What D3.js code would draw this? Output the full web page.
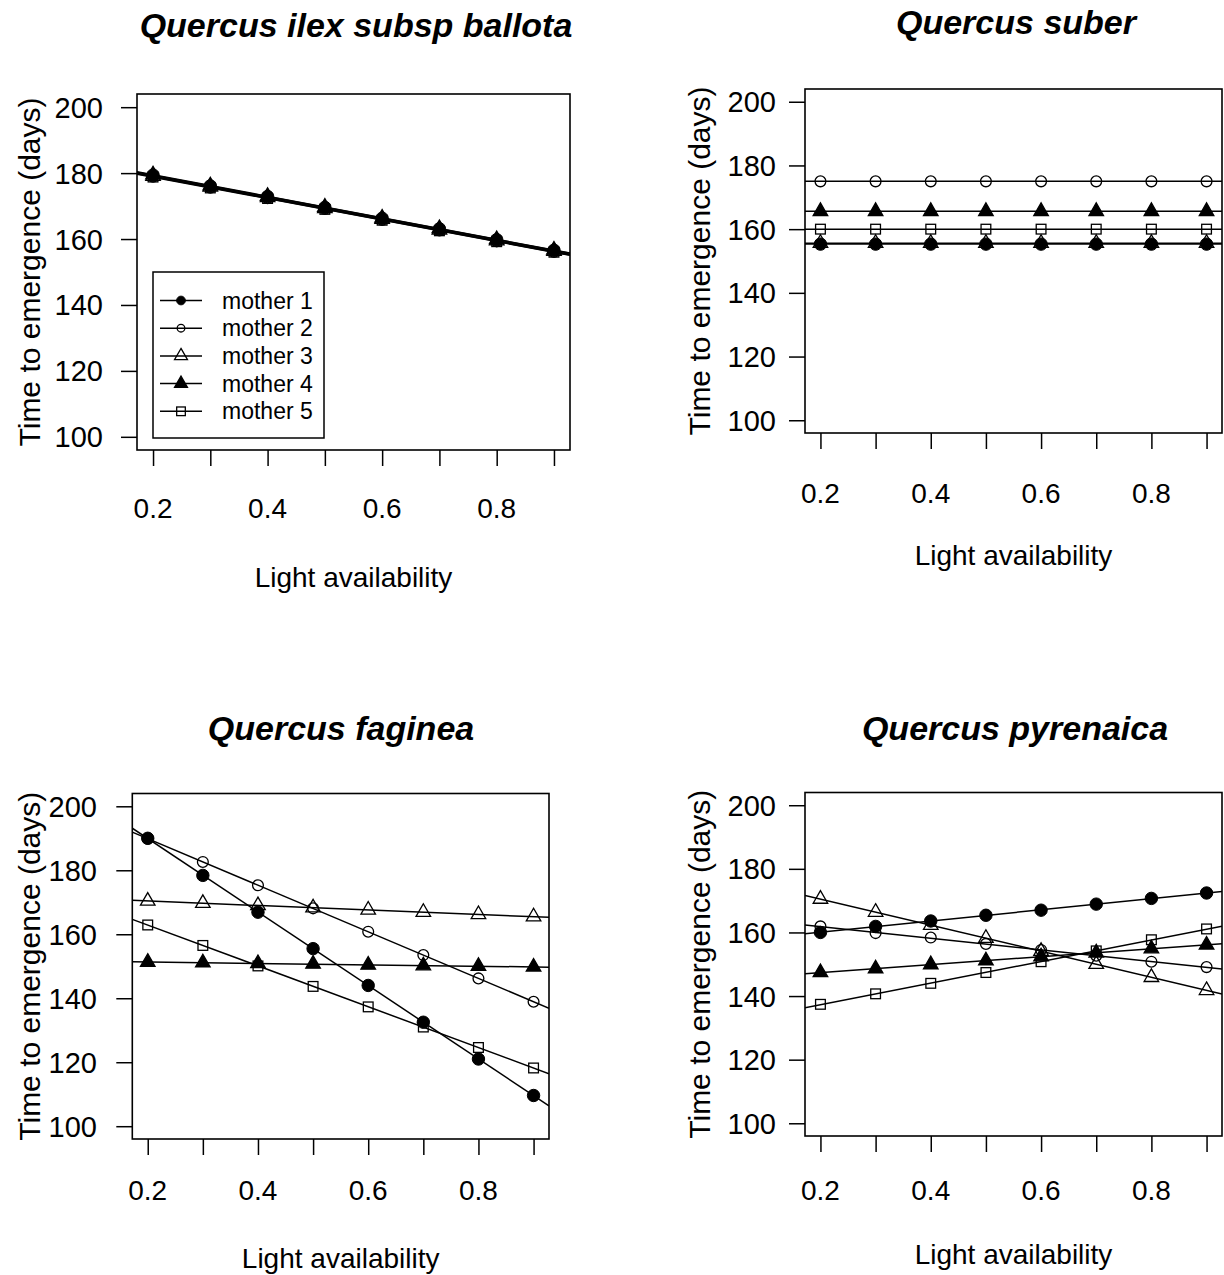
<!DOCTYPE html>
<html><head><meta charset="utf-8">
<script src="https://cdn.jsdelivr.net/npm/d3@7"></script>
<style>
body{margin:0;background:#fff}
svg{display:block}
text{font-family:"Liberation Sans",Arial,Helvetica,sans-serif;fill:#000}
</style>
</head><body>
<svg id="chart" width="1224" height="1275"></svg>
<script>
// ---------------- DATA ----------------
const lightLevels = [0.2, 0.3, 0.4, 0.5, 0.6, 0.7, 0.8, 0.9];
const xTickLabels = ["0.2", "", "0.4", "", "0.6", "", "0.8", ""];
const yTicks = [100, 120, 140, 160, 180, 200];
const mothers = ["mother 1", "mother 2", "mother 3", "mother 4", "mother 5"];
const motherSymbols = ["filledCircle", "circle", "triangle", "filledTriangle", "square"];
const speciesTitles = ["Quercus ilex subsp ballota", "Quercus suber", "Quercus faginea", "Quercus pyrenaica"];
const xAxisTitle = "Light availability";
const yAxisTitle = "Time to emergence (days)";

const ilexValues = [
  [179.4, 176.1, 172.9, 169.6, 166.3, 163.1, 159.8, 156.6],
  [178.9, 175.6, 172.4, 169.1, 165.8, 162.6, 159.3, 156.1],
  [179.1, 175.8, 172.6, 169.3, 166.0, 162.8, 159.5, 156.3],
  [179.5, 176.2, 173.0, 169.7, 166.4, 163.2, 159.9, 156.7],
  [178.8, 175.5, 172.3, 169.0, 165.7, 162.5, 159.2, 156.0]
];
const suberValues = [
  [155.3, 155.3, 155.3, 155.3, 155.3, 155.3, 155.3, 155.3],
  [175.0, 175.0, 175.0, 175.0, 175.0, 175.0, 175.0, 175.0],
  [155.6, 155.6, 155.6, 155.6, 155.6, 155.6, 155.6, 155.6],
  [165.6, 165.6, 165.6, 165.6, 165.6, 165.6, 165.6, 165.6],
  [160.0, 160.0, 160.0, 160.0, 160.0, 160.0, 160.0, 160.0]
];
const fagineaValues = [
  [190.0, 178.4, 166.9, 155.5, 144.0, 132.5, 121.0, 109.6],
  [189.9, 182.6, 175.3, 168.1, 160.8, 153.5, 146.2, 138.9],
  [170.4, 169.7, 169.0, 168.3, 167.6, 166.9, 166.2, 165.5],
  [151.3, 151.1, 150.9, 150.7, 150.4, 150.2, 150.0, 149.8],
  [162.9, 156.5, 150.1, 143.7, 137.3, 131.0, 124.6, 118.2]
];
const pyrenaicaValues = [
  [160.0, 161.9, 163.6, 165.4, 167.0, 168.9, 170.7, 172.4],
  [161.9, 159.8, 158.4, 156.4, 154.5, 152.7, 150.8, 149.1],
  [170.5, 166.4, 162.3, 158.2, 154.1, 150.0, 145.9, 141.8],
  [147.4, 148.6, 149.9, 151.1, 152.4, 153.6, 154.9, 156.1],
  [137.4, 140.7, 144.0, 147.4, 150.8, 154.2, 157.7, 161.1]
];

// ---------------- LAYOUT ----------------
const xDomain = [0.172, 0.928];
const yDomain = [96, 204];
const panels = [
  {title: speciesTitles[0], values: ilexValues, box: [137, 570, 94, 450],
   titleX: 356, titleY: 37, xLabY: 518, xTitleY: 587, yLabX: 103, yTitleX: 29, legend: true},
  {title: speciesTitles[1], values: suberValues, box: [805, 1222, 89, 433],
   titleX: 1016, titleY: 34, xLabY: 503, xTitleY: 565, yLabX: 776, yTitleX: 699, legend: false},
  {title: speciesTitles[2], values: fagineaValues, box: [132.3, 549, 793.5, 1139],
   titleX: 341, titleY: 740, xLabY: 1200, xTitleY: 1268, yLabX: 97, yTitleX: 29, legend: false},
  {title: speciesTitles[3], values: pyrenaicaValues, box: [805, 1222, 792.5, 1136],
   titleX: 1015, titleY: 740, xLabY: 1200, xTitleY: 1264, yLabX: 776, yTitleX: 699, legend: false}
];

const svg = d3.select("#chart");
const R = 5.4;

function drawSymbol(g, type, cx, cy, size) {
  const s = size;
  if (type === "filledCircle") {
    g.append("circle").attr("cx", cx).attr("cy", cy).attr("r", s * 1.15)
      .attr("fill", "#000").attr("stroke", "#000").attr("stroke-width", 1);
  } else if (type === "circle") {
    g.append("circle").attr("cx", cx).attr("cy", cy).attr("r", s)
      .attr("fill", "none").attr("stroke", "#000").attr("stroke-width", 1.3);
  } else if (type === "triangle" || type === "filledTriangle") {
    const r = 1.555 * s, xc = 1.347 * s, yc = 0.778 * s;
    const p = `M${cx},${cy - r}L${cx + xc},${cy + yc}L${cx - xc},${cy + yc}Z`;
    g.append("path").attr("d", p)
      .attr("fill", type === "filledTriangle" ? "#000" : "none")
      .attr("stroke", "#000").attr("stroke-width", 1.3).attr("stroke-linejoin", "miter");
  } else if (type === "square") {
    const h = 0.9 * s;
    g.append("rect").attr("x", cx - h).attr("y", cy - h).attr("width", 2 * h).attr("height", 2 * h)
      .attr("fill", "none").attr("stroke", "#000").attr("stroke-width", 1.3);
  }
}

function linFit(xs, ys) {
  const mx = d3.mean(xs), my = d3.mean(ys);
  let sxy = 0, sxx = 0;
  xs.forEach((x, i) => { sxy += (x - mx) * (ys[i] - my); sxx += (x - mx) * (x - mx); });
  const b = sxy / sxx;
  return x => my + b * (x - mx);
}

panels.forEach((p, pi) => {
  const [x0, x1, y0, y1] = p.box;
  const x = d3.scaleLinear().domain(xDomain).range([x0, x1]);
  const y = d3.scaleLinear().domain(yDomain).range([y1, y0]);
  const g = svg.append("g");

  const clipId = "clip" + pi;
  svg.append("defs").append("clipPath").attr("id", clipId)
    .append("rect").attr("x", x0).attr("y", y0).attr("width", x1 - x0).attr("height", y1 - y0);

  // Title
  g.append("text").attr("x", p.titleX).attr("y", p.titleY)
    .attr("text-anchor", "middle").attr("font-size", 34)
    .attr("font-weight", "bold").attr("font-style", "italic").text(p.title);

  // Y axis ticks
  const yAxis = d3.axisLeft(y).tickValues(yTicks).tickSize(16).tickFormat("");
  const ya = g.append("g").attr("transform", `translate(${x0},0)`).call(yAxis);
  ya.select(".domain").remove();
  ya.selectAll("line").attr("stroke", "#000").attr("stroke-width", 1.5);
  g.selectAll(null).data(yTicks).enter().append("text")
    .attr("x", p.yLabX).attr("y", d => y(d) + 10.5)
    .attr("text-anchor", "end").attr("font-size", 29).text(d => d);

  // X axis ticks
  const xAxis = d3.axisBottom(x).tickValues(lightLevels).tickSize(16).tickFormat("");
  const xa = g.append("g").attr("transform", `translate(0,${y1})`).call(xAxis);
  xa.select(".domain").remove();
  xa.selectAll("line").attr("stroke", "#000").attr("stroke-width", 1.5);
  g.selectAll(null).data(lightLevels).enter().append("text")
    .attr("x", d => x(d)).attr("y", p.xLabY)
    .attr("text-anchor", "middle").attr("font-size", 28)
    .text((d, i) => xTickLabels[i]);

  // Axis titles
  g.append("text").attr("x", (x0 + x1) / 2).attr("y", p.xTitleY)
    .attr("text-anchor", "middle").attr("font-size", 28).text(xAxisTitle);
  g.append("text").attr("transform", `translate(${p.yTitleX},${(y0 + y1) / 2}) rotate(-90)`)
    .attr("text-anchor", "middle").attr("dominant-baseline", "central")
    .attr("font-size", 30).text(yAxisTitle);

  // Lines (fitted, extended across plot region)
  const lg = g.append("g").attr("clip-path", `url(#${clipId})`);
  p.values.forEach(vals => {
    const f = linFit(lightLevels, vals);
    lg.append("line")
      .attr("x1", x(xDomain[0])).attr("y1", y(f(xDomain[0])))
      .attr("x2", x(xDomain[1])).attr("y2", y(f(xDomain[1])))
      .attr("stroke", "#000").attr("stroke-width", 1.5);
  });
  // Points
  const pg = g.append("g");
  p.values.forEach((vals, mi) => {
    vals.forEach((v, i) => drawSymbol(pg, motherSymbols[mi], x(lightLevels[i]), y(v), R));
  });

  // Box
  g.append("rect").attr("x", x0).attr("y", y0).attr("width", x1 - x0).attr("height", y1 - y0)
    .attr("fill", "none").attr("stroke", "#000").attr("stroke-width", 1.6);

  // Legend
  if (p.legend) {
    const lx = 153, ly = 272, lw = 171, lh = 166;
    const leg = g.append("g");
    leg.append("rect").attr("x", lx).attr("y", ly).attr("width", lw).attr("height", lh)
      .attr("fill", "#fff").attr("stroke", "#000").attr("stroke-width", 1.5);
    mothers.forEach((m, i) => {
      const yy = ly + 28.5 + i * 27.7;
      leg.append("line").attr("x1", lx + 7).attr("x2", lx + 49).attr("y1", yy).attr("y2", yy)
        .attr("stroke", "#000").attr("stroke-width", 1.5);
      drawSymbol(leg, motherSymbols[i], lx + 28, yy, motherSymbols[i].includes("ircle") ? 3.8 : 4.8);
      leg.append("text").attr("x", lx + 69).attr("y", yy + 8).attr("font-size", 23).text(m);
    });
  }
});
</script>
</body></html>
